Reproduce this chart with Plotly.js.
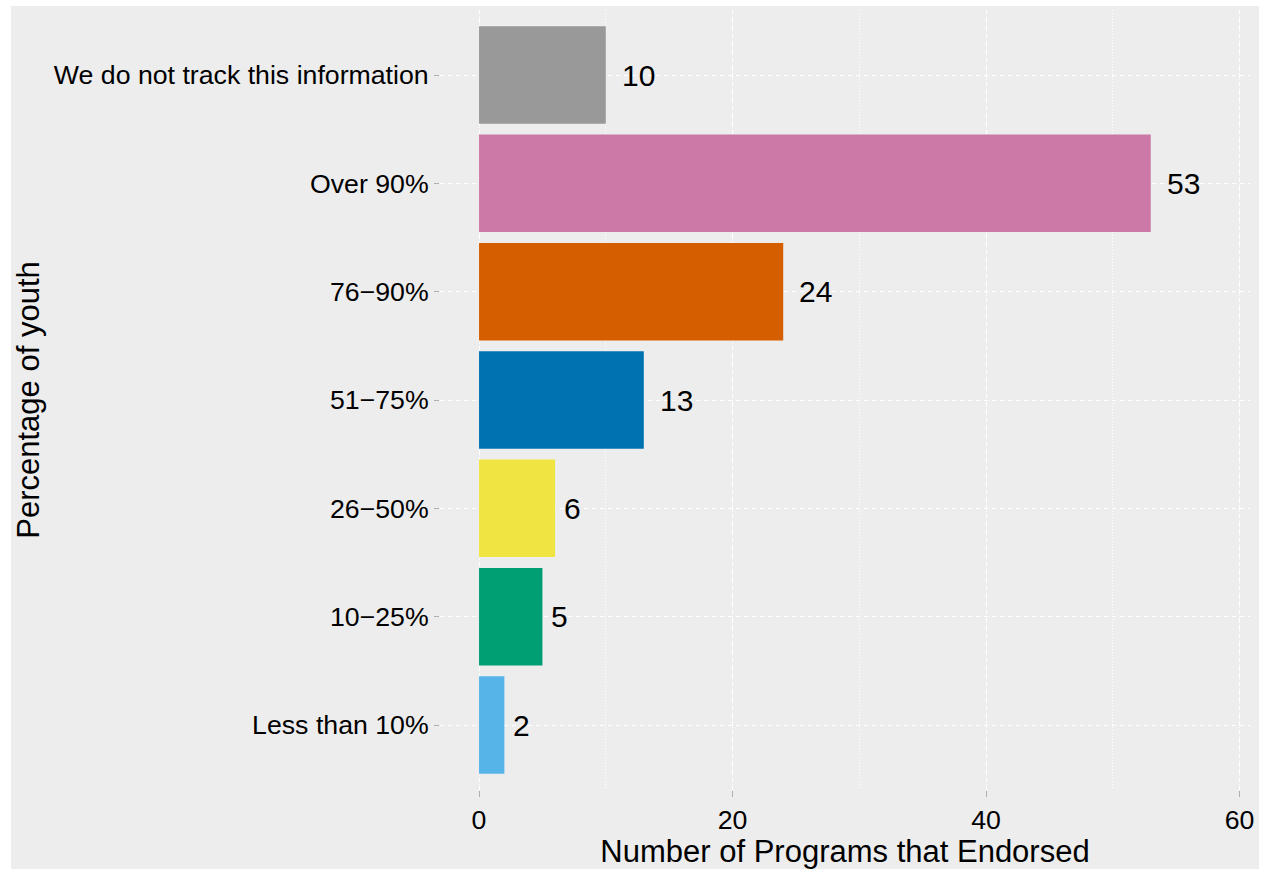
<!DOCTYPE html>
<html>
<head>
<meta charset="utf-8">
<script src="https://cdn.plot.ly/plotly-3.0.1.min.js"></script>
<style>
html, body { margin: 0; padding: 0; background: #ffffff; width: 1264px; height: 869px; overflow: hidden; }
#chart { position: absolute; left: 11px; top: 6px; width: 1248px; height: 863px; }
</style>
</head>
<body>
<div id="chart"></div>
<script>
// Data (top-to-bottom display order)
const categories = [
  "We do not track this information",
  "Over 90%",
  "76\u221290%",
  "51\u221275%",
  "26\u221250%",
  "10\u221225%",
  "Less than 10%"
];
const counts = [10, 53, 24, 13, 6, 5, 2];
const barColors = ["#999999", "#CC79A7", "#D55E00", "#0072B2", "#F0E442", "#009E73", "#56B4E9"];
const xTickValues = [0, 20, 40, 60];
const xTitle = "Number of Programs that Endorsed";
const yTitle = "Percentage of youth";

const FONT = '"Liberation Sans", Arial, Helvetica, sans-serif';

const trace = {
  type: "bar",
  orientation: "h",
  x: counts,
  y: categories,
  width: 0.9,
  marker: { color: barColors, line: { width: 0 } },
  hoverinfo: "x+y"
};

const annotations = counts.map((v, i) => ({
  x: v,
  y: categories[i],
  xref: "x",
  yref: "y",
  text: String(v),
  showarrow: false,
  xanchor: "left",
  yanchor: "middle",
  xshift: 7 * String(v).length,
  font: { family: FONT, size: 30, color: "#000000" }
}));

const layout = {
  width: 1248,
  height: 863,
  margin: { l: 429, r: 9, t: 4, b: 79, pad: 0 },
  paper_bgcolor: "#ededed",
  plot_bgcolor: "#ededed",
  showlegend: false,
  font: { family: FONT, color: "#000000" },
  bargap: 0.1,
  xaxis: {
    range: [-3.08, 60.83],
    tickvals: xTickValues,
    ticktext: xTickValues.map(String),
    showgrid: true,
    gridcolor: "#ffffff",
    gridwidth: 1,
    griddash: "4px,4px",
    zeroline: false,
    showline: false,
    ticks: "outside",
    ticklen: 6,
    tickwidth: 1,
    tickcolor: "#b0b0b0",
    tickfont: { family: FONT, size: 26.7, color: "#000000" },
    minor: {
      dtick: 10,
      tick0: 0,
      showgrid: true,
      gridcolor: "#ffffff",
      gridwidth: 1,
      griddash: "1px,2px",
      ticks: ""
    },
    title: { text: xTitle, font: { family: FONT, size: 31, color: "#000000" }, standoff: 5 },
    automargin: false,
    fixedrange: true
  },
  yaxis: {
    type: "category",
    categoryorder: "array",
    categoryarray: categories,
    range: [6.6, -0.6],
    showgrid: true,
    gridcolor: "#ffffff",
    gridwidth: 1,
    griddash: "4px,4px",
    zeroline: false,
    showline: false,
    ticks: "outside",
    ticklen: 5,
    tickwidth: 1,
    tickcolor: "#b0b0b0",
    tickfont: { family: FONT, size: 26.7, color: "#000000" },
    title: { text: yTitle, font: { family: FONT, size: 31, color: "#000000" }, standoff: 12 },
    automargin: false,
    fixedrange: true
  },
  annotations: annotations
};

Plotly.newPlot("chart", [trace], layout, { displayModeBar: false, staticPlot: true });
</script>
</body>
</html>
